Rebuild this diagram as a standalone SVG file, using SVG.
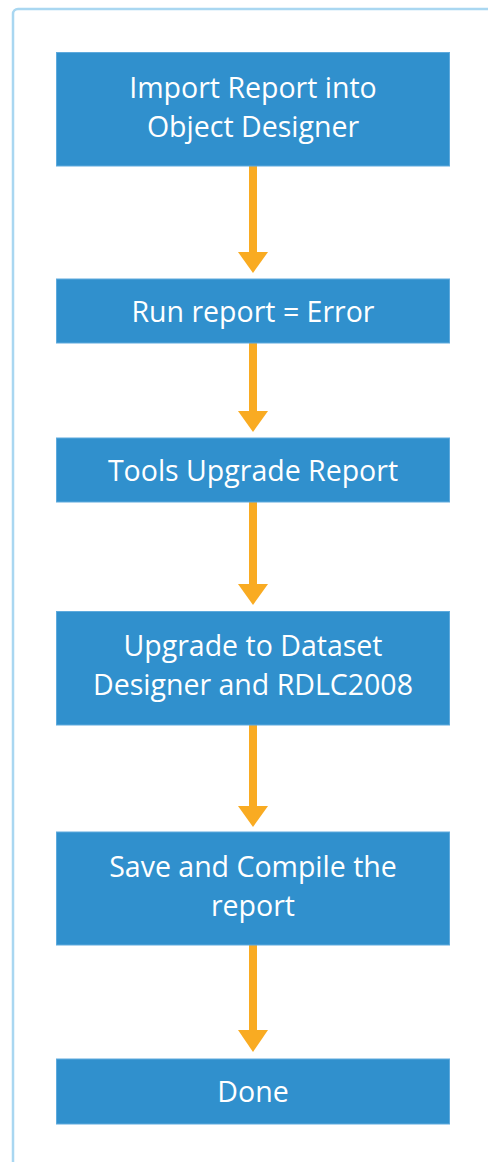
<svg xmlns="http://www.w3.org/2000/svg" width="488" height="1162" viewBox="0 0 488 1162">
<defs>
<style>
.frame{fill:none;stroke:#a9d7f1;stroke-width:2.5}
.box{fill:#3090cd;stroke:#5eaadd;stroke-width:1}
.lbl{fill:#ffffff;font-family:"Open Sans","Noto Sans","Liberation Sans",sans-serif;font-size:28.5px;text-anchor:middle}
.shaft{stroke:#f9ab22;stroke-width:8;fill:none}
.head{fill:#f9ab22}
</style>
</defs>
<rect x="13" y="9" width="500" height="1170" rx="5" class="frame"/>
<g id="connectors">
<line class="shaft" x1="253" y1="166" x2="253" y2="254"/><polygon class="head" points="238,252 268,252 253,273"/>
<line class="shaft" x1="253" y1="343" x2="253" y2="413"/><polygon class="head" points="238,411 268,411 253,432"/>
<line class="shaft" x1="253" y1="502" x2="253" y2="586"/><polygon class="head" points="238,584 268,584 253,605"/>
<line class="shaft" x1="253" y1="725" x2="253" y2="808"/><polygon class="head" points="238,806 268,806 253,827"/>
<line class="shaft" x1="253" y1="945" x2="253" y2="1032"/><polygon class="head" points="238,1030 268,1030 253,1052"/>
</g>
<g id="n1"><rect class="box" x="56.5" y="52.5" width="393" height="113.5"/><text class="lbl" x="253" y="98">Import Report into</text><text class="lbl" x="253" y="137">Object Designer</text></g>
<g id="n2"><rect class="box" x="56.5" y="279" width="393" height="64"/><text class="lbl" x="253" y="321.5">Run report = Error</text></g>
<g id="n3"><rect class="box" x="56.5" y="438" width="393" height="64"/><text class="lbl" x="253" y="480.5">Tools Upgrade Report</text></g>
<g id="n4"><rect class="box" x="56.5" y="611.5" width="393" height="113.5"/><text class="lbl" x="253" y="655.5">Upgrade to Dataset</text><text class="lbl" x="253" y="694.5">Designer and RDLC2008</text></g>
<g id="n5"><rect class="box" x="56.5" y="832" width="393" height="113"/><text class="lbl" x="253" y="876.5">Save and Compile the</text><text class="lbl" x="253" y="915.5">report</text></g>
<g id="n6"><rect class="box" x="56.5" y="1059" width="393" height="65"/><text class="lbl" x="253" y="1102">Done</text></g>
</svg>
